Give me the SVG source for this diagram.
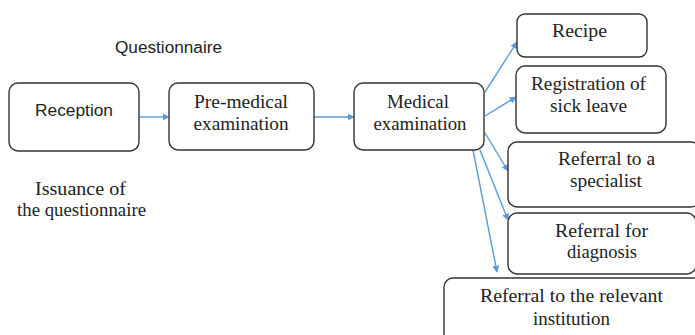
<svg xmlns="http://www.w3.org/2000/svg" width="695" height="335" viewBox="0 0 695 335">
<defs>
<style>
.box{fill:#fff;stroke:#333;stroke-width:1.4}
.a{font-family:'Liberation Sans',Arial,sans-serif;font-size:16px;fill:#222;text-anchor:middle}
.c{stroke:#5b9bd5;stroke-width:1.4;fill:none;marker-end:url(#ah)}
</style>
<marker id="ah" viewBox="0 0 10 10" refX="9" refY="5" markerWidth="7" markerHeight="7" markerUnits="userSpaceOnUse" orient="auto">
<path d="M0,0L10,5L0,10z" fill="#5b9bd5"/>
</marker>
</defs>
<rect width="695" height="335" fill="#fff"/>
<g id="connectors">
<line class="c" x1="139" y1="117" x2="169" y2="117"/>
<line class="c" x1="314" y1="117" x2="354" y2="117"/>
<line class="c" x1="485" y1="92" x2="517" y2="42"/>
<line class="c" x1="485" y1="116" x2="516" y2="97"/>
<line class="c" x1="485" y1="133" x2="508" y2="171"/>
<line class="c" x1="480" y1="150" x2="508" y2="220"/>
<line class="c" x1="473" y1="150" x2="497" y2="272"/>
</g>
<g id="questionnaire-label"><text class="a" x="168.5" y="53" textLength="107" lengthAdjust="spacingAndGlyphs">Questionnaire</text></g>
<g font-family="Liberation Serif, Times New Roman, serif" font-size="18" fill="#222" text-anchor="middle">
<g id="issuance-label">
<text x="80.5" y="195" textLength="91" lengthAdjust="spacingAndGlyphs">Issuance of</text>
<text x="81.5" y="216" textLength="129" lengthAdjust="spacingAndGlyphs">the questionnaire</text>
</g>
<g id="reception"><rect class="box" x="9" y="83" width="130" height="68" rx="9"/><text class="a" x="74" y="116" textLength="78" lengthAdjust="spacingAndGlyphs">Reception</text></g>
<g id="pre-medical"><rect class="box" x="169" y="83" width="145" height="67" rx="9"/>
<text x="241" y="108" textLength="94" lengthAdjust="spacingAndGlyphs">Pre-medical</text>
<text x="241" y="130" textLength="95" lengthAdjust="spacingAndGlyphs">examination</text></g>
<g id="medical"><rect class="box" x="354" y="83" width="130" height="67" rx="9"/>
<text x="418" y="108" textLength="62" lengthAdjust="spacingAndGlyphs">Medical</text>
<text x="420" y="130" textLength="93" lengthAdjust="spacingAndGlyphs">examination</text></g>
<g id="recipe"><rect class="box" x="517" y="14" width="130" height="43" rx="8"/>
<text x="579.5" y="37" textLength="55" lengthAdjust="spacingAndGlyphs">Recipe</text></g>
<g id="sick-leave"><rect class="box" x="516" y="66" width="150" height="67" rx="9"/>
<text x="588.5" y="90" textLength="115" lengthAdjust="spacingAndGlyphs">Registration of</text>
<text x="588.5" y="112" textLength="77" lengthAdjust="spacingAndGlyphs">sick leave</text></g>
<g id="specialist"><rect class="box" x="508" y="142" width="192" height="65" rx="9"/>
<text x="606.5" y="165" textLength="97" lengthAdjust="spacingAndGlyphs">Referral to a</text>
<text x="606" y="187" textLength="72" lengthAdjust="spacingAndGlyphs">specialist</text></g>
<g id="diagnosis"><rect class="box" x="508" y="213" width="188" height="61" rx="9"/>
<text x="601.5" y="237" textLength="93" lengthAdjust="spacingAndGlyphs">Referral for</text>
<text x="602" y="258" textLength="70" lengthAdjust="spacingAndGlyphs">diagnosis</text></g>
<g id="institution"><rect class="box" x="444" y="278" width="260" height="70" rx="9"/>
<text x="571.5" y="302" textLength="183" lengthAdjust="spacingAndGlyphs">Referral to the relevant</text>
<text x="571.5" y="325" textLength="77" lengthAdjust="spacingAndGlyphs">institution</text></g>
</g>
</svg>
